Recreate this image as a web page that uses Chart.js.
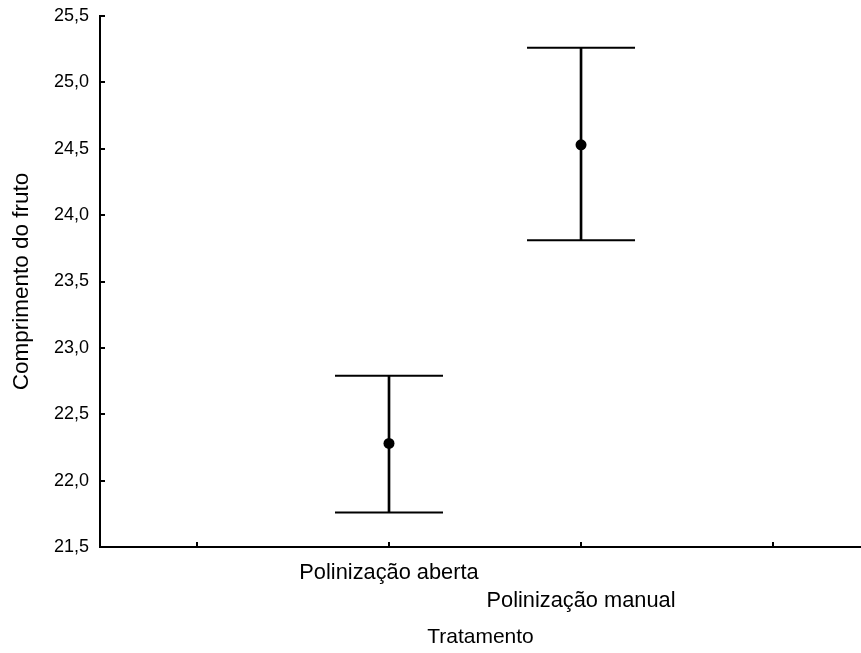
<!DOCTYPE html>
<html>
<head>
<meta charset="utf-8">
<script src="https://cdn.jsdelivr.net/npm/chart.js@4"></script>
<style>
  html, body { margin: 0; padding: 0; background: #fff; }
  #wrap { width: 861px; height: 653px; }
</style>
</head>
<body>
<div id="wrap"><canvas id="chart"></canvas></div>
<script>
// data
var categories = ['Polinização aberta', 'Polinização manual'];
var positions = [1, 2];
var xTicks = [0, 1, 2, 3];
var means = [22.28, 24.53];
var lower = [21.76, 23.81];
var upper = [22.79, 25.26];
var yTicks = [21.5, 22.0, 22.5, 23.0, 23.5, 24.0, 24.5, 25.0, 25.5];

var FONT = "'Liberation Sans', Arial, sans-serif";

function makePoints(values) {
    return values.map(function (v, i) {
        return { x: positions[i], y: v };
    });
}

// fixed axis sizes so the plot area sits where it does in the picture
function fixSize(prop, size) {
    return function (scale) {
        scale[prop] = size;
        scale.paddingTop = 0;
        scale.paddingBottom = 0;
        scale.paddingLeft = 0;
        scale.paddingRight = 0;
    };
}

var ctx = document.getElementById('chart');
new Chart(ctx, {
    data: {
        datasets: [
            {
                type: 'bar',
                data: positions.map(function (p, i) {
                    return { x: p, y: [lower[i], upper[i]] };
                }),
                backgroundColor: '#000',
                borderWidth: 0,
                barThickness: 2
            },
            {
                type: 'scatter',
                data: makePoints(upper).concat(makePoints(lower)),
                pointStyle: 'line',
                radius: 54,
                borderColor: '#000',
                borderWidth: 2
            },
            {
                type: 'scatter',
                data: makePoints(means),
                pointStyle: 'circle',
                radius: 5.5,
                backgroundColor: '#000',
                borderColor: '#000',
                borderWidth: 0
            }
        ]
    },
    options: {
        responsive: true,
        maintainAspectRatio: false,
        animation: false,
        layout: { autoPadding: false, padding: { top: 16, right: 0, left: 0, bottom: 0 } },
        plugins: {
            legend: { display: false },
            tooltip: { enabled: false }
        },
        scales: {
            x: {
                type: 'linear',
                offset: false,
                min: -0.505,
                max: 3.458,
                afterFit: fixSize('height', 106),
                afterBuildTicks: function (scale) {
                    scale.ticks = xTicks.map(function (v) { return { value: v }; });
                },
                border: { color: '#000', width: 2 },
                grid: { offset: false, drawOnChartArea: false, color: '#000', lineWidth: 2, tickLength: -5 },
                ticks: {
                    padding: 17,
                    color: '#000',
                    maxRotation: 0,
                    minRotation: 0,
                    autoSkip: false,
                    font: { family: FONT, size: 21.8, lineHeight: 28 / 21.8 },
                    callback: function (v) {
                        var i = positions.indexOf(v);
                        if (i < 0) return '';
                        return i % 2 === 0 ? categories[i] : ['', categories[i]];
                    }
                },
                title: {
                    display: true,
                    text: 'Tratamento',
                    color: '#000',
                    font: { family: FONT, size: 21 },
                    padding: { top: 0, bottom: 3.4 }
                }
            },
            y: {
                min: yTicks[0],
                max: yTicks[yTicks.length - 1],
                afterFit: fixSize('width', 100),
                afterBuildTicks: function (scale) {
                    scale.ticks = yTicks.map(function (v) { return { value: v }; });
                },
                border: { color: '#000', width: 2 },
                grid: { drawOnChartArea: false, color: '#000', lineWidth: 2, tickLength: -5 },
                ticks: {
                    padding: 16,
                    color: '#000',
                    font: { family: FONT, size: 18 },
                    callback: function (v) { return v.toFixed(1).replace('.', ','); }
                },
                title: {
                    display: true,
                    text: 'Comprimento do fruto',
                    color: '#000',
                    font: { family: FONT, size: 22.5 },
                    padding: { top: 8.5, bottom: 0 }
                }
            }
        }
    }
});
</script>
</body>
</html>
